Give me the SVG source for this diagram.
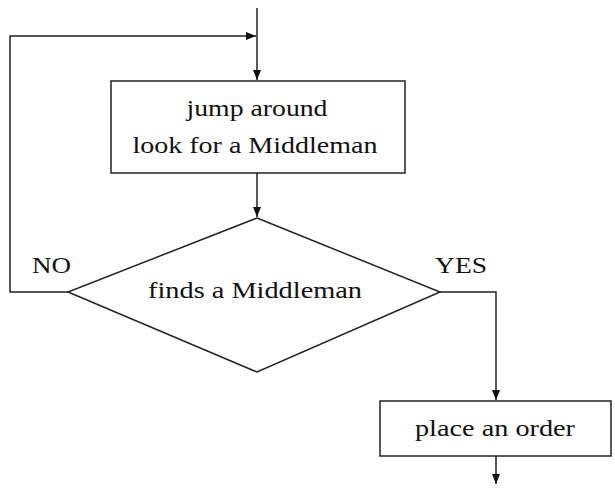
<svg xmlns="http://www.w3.org/2000/svg" width="615" height="488" viewBox="0 0 615 488">
  <style>
    .shape { fill: #ffffff; stroke: #222222; stroke-width: 1.5; }
    .edge { fill: none; stroke: #222222; stroke-width: 1.5; }
    .t { font-family: 'Liberation Serif', 'Times New Roman', serif; font-size: 23px; fill: #111111; }
    .tag { font-family: 'Liberation Serif', 'Times New Roman', serif; font-size: 24px; fill: #111111; }
  </style>
  <defs>
    <marker id="arrow" viewBox="0 0 10 8" refX="10" refY="4" markerWidth="10" markerHeight="8" markerUnits="userSpaceOnUse" orient="auto">
      <path d="M0,0 L10,4 L0,8 Z" fill="#111111"/>
    </marker>
  </defs>

  <rect width="615" height="488" fill="#ffffff"/>

  <g id="connectors">
    <!-- entry into the search loop -->
    <path class="edge" d="M257,8 V80" marker-end="url(#arrow)"/>
    <!-- NO branch loops back to the entry -->
    <path class="edge" d="M68,292 H10 V36 H256" marker-end="url(#arrow)"/>
    <!-- search box to decision -->
    <path class="edge" d="M257,173 V217" marker-end="url(#arrow)"/>
    <!-- YES branch to order -->
    <path class="edge" d="M440,292 H496 V400" marker-end="url(#arrow)"/>
    <!-- exit -->
    <path class="edge" d="M496,456 V484" marker-end="url(#arrow)"/>
  </g>

  <g id="search">
    <rect class="shape" x="111" y="81" width="294" height="92"/>
    <text class="t" x="257" y="116" text-anchor="middle" textLength="141" lengthAdjust="spacingAndGlyphs">jump around</text>
    <text class="t" x="255" y="153" text-anchor="middle" textLength="245" lengthAdjust="spacingAndGlyphs">look for a Middleman</text>
  </g>

  <g id="decision">
    <polygon class="shape" points="257,218 440,292 257,372 68,292"/>
    <text class="t" x="255" y="298" text-anchor="middle" textLength="214" lengthAdjust="spacingAndGlyphs">finds a Middleman</text>
  </g>

  <g id="branch-labels">
    <text class="tag" x="32" y="273" textLength="39" lengthAdjust="spacingAndGlyphs">NO</text>
    <text class="tag" x="435" y="273" textLength="52" lengthAdjust="spacingAndGlyphs">YES</text>
  </g>

  <g id="order">
    <rect class="shape" x="380" y="401" width="231" height="55"/>
    <text class="t" x="495" y="436" text-anchor="middle" textLength="160" lengthAdjust="spacingAndGlyphs">place an order</text>
  </g>
</svg>
